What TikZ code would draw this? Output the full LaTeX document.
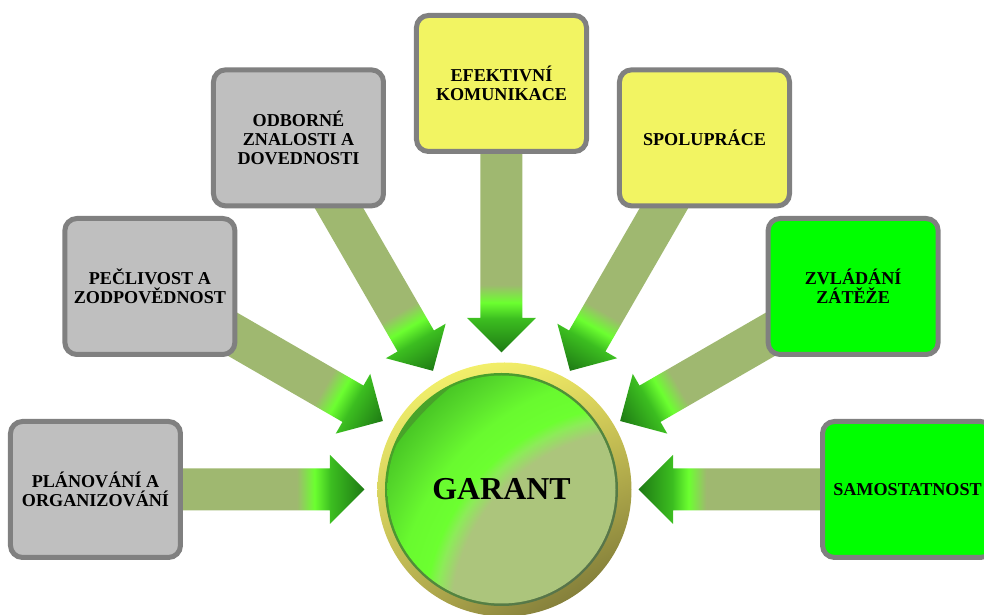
\documentclass[tikz,border=0pt]{standalone}
\usepackage{fontspec}
\setmainfont{Liberation Serif}
\usetikzlibrary{shadings,backgrounds}

\definecolor{boxgray}{HTML}{BFBFBF}
\definecolor{boxyellow}{HTML}{F2F462}
\definecolor{boxgreen}{HTML}{00FF00}
\definecolor{rimgray}{HTML}{808080}
\definecolor{sage}{HTML}{9FB870}
\definecolor{sagefill}{HTML}{ACC57C}
\definecolor{brightgreen}{HTML}{6CFF30}
\definecolor{lightgreen}{HTML}{8CEC58}
\definecolor{midgreen}{HTML}{58DC2C}
\definecolor{deepgreen}{HTML}{42BE22}
\definecolor{headgreen}{HTML}{3CBE20}
\definecolor{tipgreen}{HTML}{1E7A14}
\definecolor{edgegreen}{HTML}{44AE22}
\definecolor{edgegray}{HTML}{5C6A52}

\pgfdeclarehorizontalshading{arrowfill}{100bp}{color(0bp)=(tipgreen); color(25bp)=(tipgreen);
  color(31.3bp)=(headgreen); color(34.3bp)=(brightgreen); color(37.6bp)=(sage); color(100bp)=(sage)}
\pgfdeclareradialshading{garantfill}{\pgfpointorigin}{color(0bp)=(sagefill); color(15.8bp)=(sagefill);
  color(17.1bp)=(lightgreen); color(18bp)=(brightgreen); color(20.4bp)=(brightgreen!92!deepgreen);
  color(23bp)=(midgreen); color(26bp)=(deepgreen); color(50bp)=(deepgreen)}

\tikzset{
  topic/.style={draw=rimgray, line width=5bp, rounded corners=12bp,
    minimum width=170bp, minimum height=136bp, inner sep=0pt,
    align=center, font=\fontsize{18.2}{19}\selectfont\bfseries},
}

\begin{document}
\begin{tikzpicture}[x=1bp,y=1bp]
  \useasboundingbox (-501.5,-125.5) rectangle (482.5,489.5);

  % middle circle
  \shade[upper left={rgb,255:red,250;green,250;blue,112}, upper right={rgb,255:red,232;green,224;blue,96},
    lower left={rgb,255:red,184;green,176;blue,80}, lower right={rgb,255:red,106;green,102;blue,48}]
    (3,0) circle (127);
  \shade[upper left=edgegreen, upper right=edgegreen!50!edgegray, lower left=edgegreen!50!edgegray,
    lower right=edgegray] (0,0) circle (116.5);
  \begin{scope}
    \clip (0,0) circle (114);
    \shade[shading=garantfill] (138.5,-130.5) circle (300);
  \end{scope}
  \node[circle, minimum size=254bp, font=\fontsize{32}{34}\selectfont\bfseries] (garant) at (0,0) {GARANT};

  % boxes
  \node[topic, fill=boxgray] (plan) at (180:406) {PLÁNOVÁNÍ A\\ORGANIZOVÁNÍ};
  \node[topic, fill=boxgray] (pecl) at (150:406) {PEČLIVOST A\\ZODPOVĚDNOST};
  \node[topic, fill=boxgray] (odbor) at (120:406) {ODBORNÉ\\ZNALOSTI A\\DOVEDNOSTI};
  \node[topic, fill=boxyellow] (komun) at (90:406) {EFEKTIVNÍ\\KOMUNIKACE};
  \node[topic, fill=boxyellow] (spolu) at (60:406) {SPOLUPRÁCE};
  \node[topic, fill=boxgreen] (zatez) at (30:406) {ZVLÁDÁNÍ\\ZÁTĚŽE};
  \node[topic, fill=boxgreen] (samo) at (0:406) {SAMOSTATNOST};

  % arrows
  \begin{pgfonlayer}{background}
    \foreach \n in {plan,pecl,odbor,komun,spolu,zatez,samo}{
      \pgfmathanglebetweenpoints{\pgfpointanchor{garant}{center}}{\pgfpointanchor{\n}{center}}
      \let\arrowang\pgfmathresult
      \shade[shading=arrowfill, transform canvas={rotate=\arrowang}]
        (137,0) -- (171.5,34.5) -- (171.5,21) -- (406,21) -- (406,-21)
        -- (171.5,-21) -- (171.5,-34.5) -- cycle;
    }
  \end{pgfonlayer}
\end{tikzpicture}
\end{document}
